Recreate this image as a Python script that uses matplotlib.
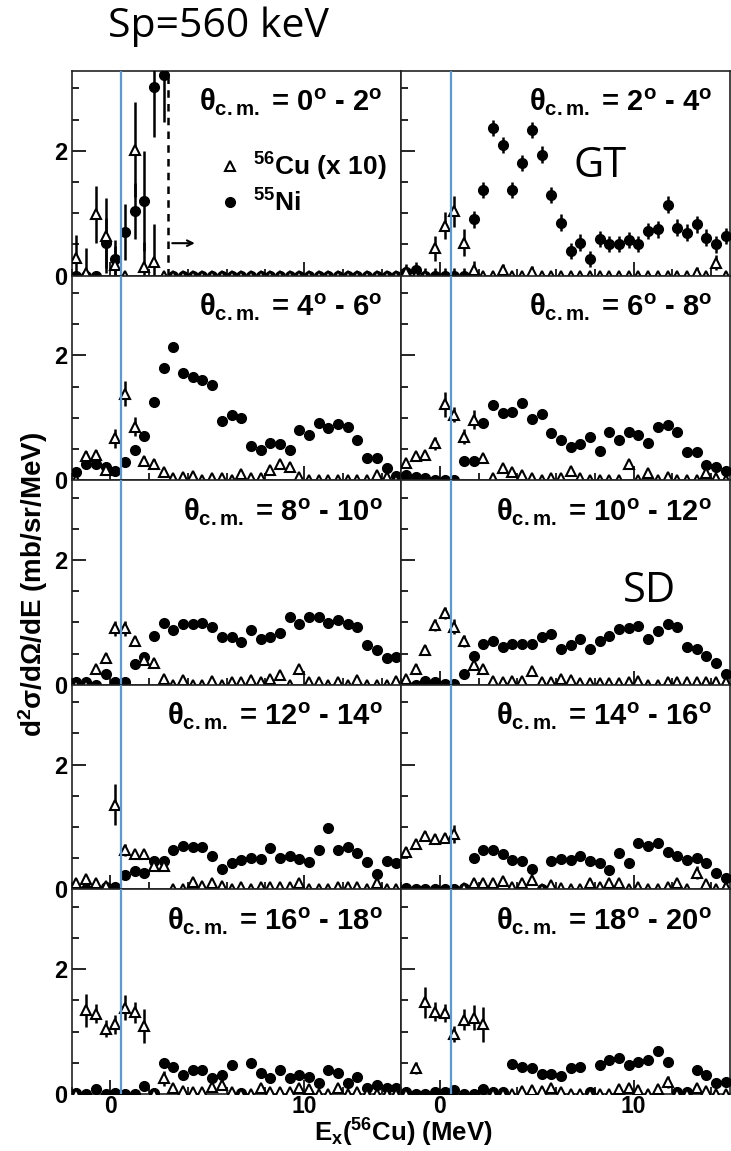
import numpy as np
import matplotlib
matplotlib.use("Agg")
import matplotlib.pyplot as plt
from matplotlib.lines import Line2D
from matplotlib.ticker import MultipleLocator

plt.rcParams["font.family"] = ["Liberation Sans", "DejaVu Sans"]
plt.rcParams["font.weight"] = "bold"
plt.rcParams["mathtext.fontset"] = "custom"
for k in ("rm", "it", "bf", "sf"):
    plt.rcParams["mathtext." + k] = "Liberation Sans:bold"

# bin centres of Ex(56Cu), MeV
ex = [-1.75, -1.25, -0.75, -0.25, 0.25, 0.75, 1.25, 1.75, 2.25, 2.75, 3.25, 3.75,
      4.25, 4.75, 5.25, 5.75, 6.25, 6.75, 7.25, 7.75, 8.25, 8.75, 9.25, 9.75,
      10.25, 10.75, 11.25, 11.75, 12.25, 12.75, 13.25, 13.75, 14.25, 14.75]

sp_mev = 0.56        # proton separation energy
cut_00_02 = 2.95     # dashed line in the 0-2 deg panel

# 56Cu (x 10) and 55Ni cross sections, mb/sr/MeV, one list per angle bin
cu_00_02 = [0.29, 0.04, 0.98, 0.64, 0.17, 0, 2.02, 0.14, 0.22] + [0] * 25
cu_err_00_02 = [0.36, 0.40, 0.46, 0.60, 0.30, 0, 0.76, 0.40, 0.60] + [0] * 25
ni_00_02 = [0, 0, 0, 0.53, 0.27, 0.70, 1.03, 1.19, 3.02, 3.22] + [0] * 24
ni_err_00_02 = [0, 0, 0, 0.40, 0.30, 0.45, 0.45, 0.80, 0.80, 0.75] + [0] * 24

cu_02_04 = [0.06, 0, 0, 0.44, 0.80, 1.03, 0.53, 0.09, 0, 0, 0.09, 0, 0, 0.06, 0, 0,
            0, 0, 0, 0, 0, 0, 0, 0, 0, 0, 0, 0, 0, 0, 0.04, 0, 0.21, 0]
cu_err_02_04 = [0.08, 0, 0, 0.20, 0.22, 0.25, 0.22, 0.15, 0, 0, 0.10, 0, 0, 0.10, 0, 0,
                0, 0, 0, 0, 0, 0, 0, 0, 0, 0, 0, 0, 0, 0, 0.10, 0, 0.12, 0]
ni_02_04 = [0.05, 0.09, 0, 0, 0, 0, 0, 0.90, 1.37, 2.37, 2.10, 1.37, 1.80, 2.34, 1.94,
            1.29, 0.85, 0.39, 0.53, 0.27, 0.59, 0.51, 0.51, 0.57, 0.51, 0.72, 0.74,
            1.14, 0.77, 0.69, 0.82, 0.61, 0.50, 0.64]
ni_err_02_04 = 0.13

cu_04_06 = [0, 0.39, 0.40, 0.16, 0.67, 1.39, 0.86, 0.31, 0.26, 0.13, 0.03, 0.05, 0.06,
            0, 0.03, 0.04, 0, 0.10, 0.04, 0.03, 0.16, 0.26, 0.21, 0.05, 0, 0, 0, 0,
            0, 0, 0, 0.08, 0.05, 0]
cu_err_04_06 = [0.06, 0.08, 0.08, 0.06, 0.15, 0.20, 0.15, 0.08, 0.08, 0.06, 0.04, 0.04,
                0.04, 0, 0.04, 0.04, 0, 0.05, 0.04, 0.04, 0.06, 0.07, 0.07, 0.04, 0,
                0, 0, 0, 0, 0, 0, 0.05, 0.04, 0]
ni_04_06 = [0.13, 0.26, 0.26, 0.21, 0.14, 0.29, 0.48, 0.71, 1.26, 1.80, 2.13, 1.72,
            1.65, 1.60, 1.53, 0.95, 1.05, 1.00, 0.55, 0.49, 0.59, 0.58, 0.48, 0.80,
            0.72, 0.91, 0.83, 0.90, 0.86, 0.64, 0.35, 0.36, 0.20, 0.06]
ni_err_04_06 = 0.06

cu_06_08 = [0.28, 0.39, 0.40, 0.59, 1.22, 1.05, 0.70, 0.97, 0.36, 0.04, 0.19, 0.13,
            0.09, 0.04, 0, 0.04, 0.04, 0.15, 0.04, 0, 0, 0, 0, 0.26, 0, 0.12, 0,
            0.05, 0, 0, 0, 0.11, 0.04, 0]
cu_err_06_08 = [0.05, 0.06, 0.06, 0.10, 0.20, 0.12, 0.12, 0.15, 0.06, 0.04, 0.05,
                0.05, 0.04, 0.04, 0, 0.04, 0.04, 0.05, 0.04, 0, 0, 0, 0, 0.06, 0,
                0.05, 0, 0.04, 0, 0, 0, 0.05, 0.04, 0]
ni_06_08 = [0.09, 0.05, 0.03, 0, 0, 0, 0.31, 0.31, 0.92, 1.21, 1.07, 1.10, 1.24, 0.98,
            1.06, 0.75, 0.64, 0.54, 0.58, 0.70, 0.47, 0.78, 0.64, 0.78, 0.72, 0.59,
            0.86, 0.88, 0.77, 0.46, 0.46, 0.24, 0.21, 0.14]
ni_err_06_08 = 0.05

cu_08_10 = [0, 0, 0.26, 0.43, 0.91, 0.91, 0.71, 0.39, 0.35, 0.09, 0, 0.08, 0, 0, 0.06,
            0, 0.04, 0.05, 0.08, 0.04, 0.10, 0.16, 0, 0.25, 0.05, 0.05, 0, 0.05, 0,
            0.08, 0, 0, 0, 0.06]
cu_err_08_10 = [0, 0, 0.06, 0.08, 0.12, 0.12, 0.08, 0.06, 0.06, 0.04, 0, 0.04, 0, 0,
                0.04, 0, 0.04, 0.04, 0.04, 0.04, 0.04, 0.05, 0, 0.06, 0.04, 0.04, 0,
                0.04, 0, 0.04, 0, 0, 0, 0.04]
ni_08_10 = [0.04, 0.04, 0, 0.17, 0.05, 0.05, 0.34, 0.44, 0.78, 0.99, 0.88, 0.97, 0.97,
            0.99, 0.92, 0.76, 0.77, 0.69, 0.88, 0.73, 0.76, 0.83, 1.09, 0.97, 1.09,
            1.09, 0.99, 1.04, 0.97, 0.93, 0.64, 0.56, 0.43, 0.44]
ni_err_08_10 = 0.05

cu_10_12 = [0.09, 0.25, 0.56, 0.96, 1.15, 0.93, 0.70, 0.32, 0.26, 0.06, 0.04, 0.06,
            0.06, 0.22, 0.04, 0.04, 0.09, 0.08, 0.03, 0.03, 0.03, 0.03, 0.03, 0.05,
            0.06, 0, 0, 0.04, 0.04, 0.04, 0.04, 0.04, 0.04, 0.04]
cu_err_10_12 = [0.04, 0.08, 0.08, 0.10, 0.10, 0.12, 0.10, 0.06, 0.06, 0.04, 0.04,
                0.04, 0.04, 0.05, 0.04, 0.04, 0.04, 0.04, 0.03, 0.03, 0.03, 0.03, 0.03,
                0.04, 0.04, 0, 0, 0.04, 0.04, 0.04, 0.04, 0.04, 0.04, 0.04]
ni_10_12 = [0, 0, 0.06, 0.04, 0.02, 0.01, 0.18, 0.46, 0.66, 0.71, 0.61, 0.66, 0.66,
            0.66, 0.76, 0.81, 0.57, 0.64, 0.73, 0.57, 0.71, 0.78, 0.90, 0.91, 0.95,
            0.74, 0.86, 0.97, 0.92, 0.61, 0.58, 0.47, 0.35, 0.18]
ni_err_10_12 = 0.05

cu_12_14 = [0.11, 0.16, 0.11, 0.05, 1.36, 0.63, 0.56, 0.56, 0.37, 0.37, 0, 0, 0.12,
            0.05, 0.11, 0.05, 0, 0.04, 0, 0.04, 0.04, 0.04, 0.04, 0.10, 0, 0, 0,
            0.04, 0.04, 0.04, 0, 0.11, 0, 0]
cu_err_12_14 = [0.04, 0.04, 0.04, 0.04, 0.33, 0.10, 0.06, 0.06, 0.05, 0.05, 0, 0,
                0.04, 0.04, 0.04, 0.04, 0, 0.04, 0, 0.04, 0.04, 0.04, 0.04, 0.04, 0,
                0, 0, 0.04, 0.04, 0.04, 0, 0.04, 0, 0]
ni_12_14 = [0, 0, 0, 0.04, 0.04, 0.23, 0.29, 0.26, 0.46, 0.46, 0.64, 0.69, 0.68, 0.68,
            0.53, 0.33, 0.42, 0.47, 0.51, 0.49, 0.66, 0.50, 0.54, 0.49, 0.44, 0.63,
            0.99, 0.64, 0.68, 0.59, 0.44, 0.24, 0.45, 0.43]
ni_err_12_14 = 0.05

cu_14_16 = [0.60, 0.73, 0.85, 0.81, 0.82, 0.89, 0.03, 0.10, 0.11, 0.10, 0.13, 0.04,
            0.11, 0.15, 0, 0.07, 0.03, 0, 0, 0.11, 0.04, 0.10, 0.11, 0, 0.04, 0, 0,
            0.04, 0.10, 0, 0.27, 0.09, 0, 0.04]
cu_err_14_16 = [0.08, 0.08, 0.08, 0.08, 0.08, 0.15, 0.03, 0.04, 0.04, 0.04, 0.04,
                0.03, 0.04, 0.05, 0, 0.04, 0.03, 0, 0, 0.04, 0.03, 0.04, 0.04, 0,
                0.03, 0, 0, 0.03, 0.04, 0, 0.10, 0.04, 0, 0.03]
ni_14_16 = [0.02, 0, 0, 0, 0, 0, 0.02, 0.50, 0.63, 0.63, 0.56, 0.47, 0.46, 0.33, 0,
            0.46, 0.49, 0.47, 0.54, 0.46, 0.43, 0.31, 0.59, 0.42, 0.75, 0.69, 0.74,
            0.60, 0.53, 0.47, 0.50, 0.42, 0.27, 0.19]
ni_err_14_16 = 0.05

cu_16_18 = [0, 1.34, 1.29, 1.05, 1.12, 1.38, 1.31, 1.09, 0, 0.25, 0.09, 0.05, 0.04,
            0.04, 0.12, 0.15, 0.04, 0, 0, 0.09, 0.04, 0.04, 0.04, 0.09, 0.08, 0, 0,
            0.09, 0, 0.04, 0, 0, 0, 0]
cu_err_16_18 = [0, 0.26, 0.15, 0.13, 0.15, 0.20, 0.17, 0.27, 0, 0.12, 0.05, 0.04,
                0.04, 0.04, 0.05, 0.06, 0.04, 0, 0, 0.04, 0.04, 0.04, 0.04, 0.04,
                0.04, 0, 0, 0.04, 0, 0.04, 0, 0, 0, 0]
ni_16_18 = [0.02, 0, 0.08, 0, 0.02, 0, 0, 0.13, 0.02, 0.50, 0.44, 0.31, 0.39, 0.39,
            0.25, 0.31, 0.47, 0.02, 0.50, 0.34, 0.26, 0.39, 0.25, 0.31, 0.28, 0.17,
            0.39, 0.34, 0.17, 0.28, 0.10, 0.15, 0.10, 0.09]
ni_err_16_18 = 0.07

cu_18_20 = [0, 0.42, 1.47, 1.32, 1.30, 0.96, 1.19, 1.22, 1.12, 0, 0, 0, 0.05, 0.06,
            0.05, 0.09, 0.04, 0, 0, 0, 0, 0, 0.08, 0.10, 0.06, 0, 0.08, 0.19, 0, 0,
            0.10, 0.05, 0, 0]
cu_err_18_20 = [0, 0.10, 0.25, 0.15, 0.15, 0.13, 0.17, 0.20, 0.28, 0, 0, 0, 0.04,
                0.04, 0.04, 0.04, 0.04, 0, 0, 0, 0, 0, 0.04, 0.04, 0.04, 0, 0.04,
                0.10, 0, 0, 0.04, 0.04, 0, 0]
ni_18_20 = [0.04, 0, 0, 0.03, 0.03, 0.06, 0, 0, 0.08, 0.04, 0.04, 0.48, 0.44, 0.42,
            0.32, 0.32, 0.29, 0.41, 0.43, 0.04, 0.47, 0.54, 0.58, 0.47, 0.52, 0.55,
            0.69, 0.51, 0.04, 0.04, 0.39, 0.31, 0.17, 0.20]
ni_err_18_20 = 0.07

angle_bins = [(0, 2), (2, 4), (4, 6), (6, 8), (8, 10),
              (10, 12), (12, 14), (14, 16), (16, 18), (18, 20)]
panels = [
    (cu_00_02, cu_err_00_02, ni_00_02, ni_err_00_02),
    (cu_02_04, cu_err_02_04, ni_02_04, ni_err_02_04),
    (cu_04_06, cu_err_04_06, ni_04_06, ni_err_04_06),
    (cu_06_08, cu_err_06_08, ni_06_08, ni_err_06_08),
    (cu_08_10, cu_err_08_10, ni_08_10, ni_err_08_10),
    (cu_10_12, cu_err_10_12, ni_10_12, ni_err_10_12),
    (cu_12_14, cu_err_12_14, ni_12_14, ni_err_12_14),
    (cu_14_16, cu_err_14_16, ni_14_16, ni_err_14_16),
    (cu_16_18, cu_err_16_18, ni_16_18, ni_err_16_18),
    (cu_18_20, cu_err_18_20, ni_18_20, ni_err_18_20),
]

fig, axes = plt.subplots(5, 2, sharex=True, sharey=True, figsize=(7.31, 11.51), dpi=100)
fig.subplots_adjust(left=0.098, right=0.9993, top=0.9383, bottom=0.0495,
                    wspace=0, hspace=0)

for ax, (a0, a1), (cu, cu_e, ni, ni_e) in zip(axes.flat, angle_bins, panels):
    ax.errorbar(ex, ni, yerr=ni_e, fmt="o", ms=7, color="black", ecolor="black",
                elinewidth=1.8, capsize=0, zorder=3)
    ax.errorbar(ex, cu, yerr=cu_e, fmt="^", ms=7.5, mfc="white", mec="black",
                mew=1.5, ecolor="black", elinewidth=1.8, capsize=0, zorder=4)
    ax.axvline(sp_mev, color="#5b9bd5", lw=1.6, zorder=5)
    ax.text(0.945, 0.845, r"$\theta_{c{.}m{.}}$ = %d$^o$ - %d$^o$" % (a0, a1),
            transform=ax.transAxes, ha="right", va="center", fontsize=21)
    ax.set_xlim(-2, 15)
    ax.set_ylim(0, 3.28)
    ax.xaxis.set_major_locator(MultipleLocator(10))
    ax.xaxis.set_minor_locator(MultipleLocator(2))
    ax.yaxis.set_major_locator(MultipleLocator(2))
    ax.yaxis.set_minor_locator(MultipleLocator(0.5))
    ax.tick_params(which="both", direction="in", width=1.2, labelsize=17, pad=3)
    ax.tick_params(axis="x", labelsize=16.5, pad=1)
    ax.tick_params(which="major", length=10)
    ax.tick_params(which="minor", length=5)
    for sp in ax.spines.values():
        sp.set_linewidth(1.2)
        sp.set_color("#222222")

for ax in axes[:, 1]:
    ax.tick_params(labelleft=False)

# 0-2 deg panel: cut line, arrow and legend
ax0 = axes[0, 0]
ax0.axvline(cut_00_02, color="black", ls=(0, (3, 2.5)), lw=1.8, zorder=2)
ax0.annotate("", xy=(4.5, 0.52), xytext=(3.05, 0.52),
             arrowprops=dict(arrowstyle="->", lw=1.5, color="black"))
handles = [Line2D([], [], ls="none", marker="^", ms=7.5, mfc="white", mec="black", mew=1.5),
           Line2D([], [], ls="none", marker="o", ms=7, color="black")]
ax0.legend(handles, [r"$^{56}$Cu (x 10)", r"$^{55}$Ni"], loc="center left",
           bbox_to_anchor=(0.37, 0.45), frameon=False, fontsize=19,
           handlelength=1.0, handletextpad=0.35, labelspacing=0.25)

axes[0, 1].text(8.25, 1.76, "GT", fontsize=30, fontweight="normal",
                family="Open Sans", ha="center", va="center")
axes[2, 1].text(10.8, 1.50, "SD", fontsize=30, fontweight="normal",
                family="Open Sans", ha="center", va="center")

fig.text(108 / 731, 1 - 27 / 1151, "Sp=560 keV", fontsize=29.5, fontweight="normal",
         family="Open Sans", ha="left", va="center")
fig.text(0.045, 0.492, r"d$^2\sigma$/d$\Omega$/dE (mb/sr/MeV)", rotation=90,
         fontsize=20, ha="center", va="center")
fig.text(0.551, 0.002, r"E$_x$($^{56}$Cu) (MeV)", fontsize=18.5, ha="center",
         va="bottom")

fig.savefig("out.png", dpi=100)
